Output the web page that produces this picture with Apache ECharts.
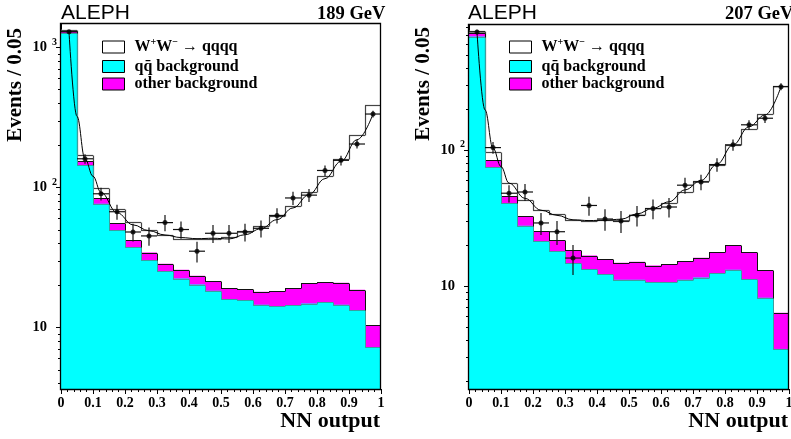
<!DOCTYPE html>
<html><head><meta charset="utf-8">
<style>html,body{margin:0;padding:0;background:#fff}#c{width:791px;height:439px}</style>
<script src="https://cdn.jsdelivr.net/npm/echarts@6/dist/echarts.min.js"></script>
</head><body><div id="c"></div>
<script>
// ---------- data ----------
const binLow = [0,0.05,0.1,0.15,0.2,0.25,0.3,0.35,0.4,0.45,0.5,0.55,0.6,0.65,0.7,0.75,0.8,0.85,0.9,0.95];
const binWidth = 0.05;

// 189 GeV panel
const qq189    = [1259,143.6,76.5,49.3,37.5,30.3,25.3,22.3,20.2,18.3,15.9,15.6,14.5,14.2,14.4,14.8,15.2,14.5,13.2,7.2];
const other189 = [42,10.8,7.5,6.0,4.6,3.9,3.2,3.5,3.2,3.1,3.2,3.2,3.5,4.0,4.6,5.8,5.9,6.3,5.4,3.2];
const ww189    = [36,15.6,14.4,14.3,14.8,15.1,17.4,17.2,19.3,21.4,25.3,29.7,35,44.3,55,72.1,99.9,138.8,218.1,377.6];
const data189  = [1290,160,90,67,48,45,56,50,35,47,47,48,51,63,84,88,132,156,204,334];
const err189   = [36,12.6,9.5,8.2,6.9,6.7,7.5,7.1,5.9,6.9,6.9,6.9,7.1,7.9,9.2,9.4,11.5,12.5,14.3,18.3];
const fitX189  = [0.025,0.05,0.075,0.1,0.125,0.175,0.225,0.275,0.325,0.375,0.425,0.475,0.525,0.575,0.625,0.675,0.725,0.775,0.825,0.875,0.925,0.975];
const fit189   = [1290,321,160,120,92,66,54,49,45.7,43.8,43,43.3,42.8,45.9,50.7,58.8,71.3,88.7,115.4,153.4,219,334];

// 207 GeV panel
const qq207    = [683,74.8,40.5,27.7,21.3,17.9,14.7,13.3,12.2,11.1,11.1,10.6,10.6,11.1,11.5,12.4,13.1,11.2,8.16,3.43];
const other207 = [42,8.9,5.2,4.8,3.8,3.7,3.5,3.4,3.5,3.7,3.9,3.5,3.8,4.0,4.6,5.3,6.7,6.4,4.9,2.9];
const ww207    = [29,12.5,11,10.4,11.1,12.1,12.4,13.5,14.9,15.4,18.3,23.5,26.6,33.8,42.8,59.9,88.5,124.4,169.9,288.6];
const data207  = [738,104,48,49,29,25,16,39,31,30,33,37,38,55,58,78,109,153,171,292];
const err207   = [27.2,10.2,6.9,7,5.4,5,4,6.2,5.6,5.5,5.7,6.1,6.2,7.4,7.6,8.8,10.4,12.4,13.1,17.1];
const fitX207  = [0.025,0.05,0.075,0.1,0.125,0.175,0.225,0.275,0.325,0.375,0.425,0.475,0.525,0.575,0.625,0.675,0.725,0.775,0.825,0.875,0.925,0.975];
const fit207   = [738,197,103,75.4,57,44,36,33,30.6,30.2,30.4,30.9,33.8,37.2,41.5,50.8,59.5,78.5,108.8,148,180.7,292];

// axis ticks
const yMajor189 = [10,100,1000];
const yMinor189 = [4,5,6,7,8,9,20,30,40,50,60,70,80,90,200,300,400,500,600,700,800,900];
const yMajor207 = [10,100];
const yMinor207 = [2,3,4,5,6,7,8,9,20,30,40,50,60,70,80,90,200,300,400,500,600,700,800];
const yRange189 = [3.63, 1468];
const yRange207 = [1.74, 830];
const energyLabels = ['189 GeV','207 GeV'];

// ---------- helpers ----------
const SERIF = '"Liberation Serif", "Times New Roman", serif';
const SANS = '"Liberation Sans", Arial, sans-serif';
const COL_QQ = '#00ffff', COL_OT = '#ff00ff', COL_WW = '#ffffff';

function add(a, b) { return a.map((v, i) => v + b[i]); }
function snap(v) { return Math.round(v) + 0.5; }

function fillSeries(name, gi, tops, ymin, color, z) {
  return {
    type: 'custom', name: name, xAxisIndex: gi, yAxisIndex: gi, z: z, silent: true, clip: true,
    itemStyle: { color: color, borderColor: '#000', borderWidth: 1 },
    encode: { x: [0, 1], y: 2 },
    data: binLow.map((x, i) => [x, x + binWidth, tops[i]]),
    renderItem: function (params, api) {
      const a = api.coord([api.value(0), api.value(2)]);
      const b = api.coord([api.value(1), ymin]);
      return { type: 'rect', shape: { x: a[0], y: a[1], width: b[0] - a[0], height: b[1] - a[1] },
               style: { fill: color } };
    }
  };
}
function edgeSeries(gi, tops, ymin, stroke, lw, z) {
  return {
    type: 'custom', name: 'edge', xAxisIndex: gi, yAxisIndex: gi, z: z, silent: true, clip: true,
    encode: { x: [0, 1], y: 2 },
    data: binLow.map((x, i) => [x, x + binWidth, tops[i], i < tops.length - 1 ? tops[i + 1] : ymin]),
    renderItem: function (params, api) {
      const a = api.coord([api.value(0), api.value(2)]);
      const b = api.coord([api.value(1), api.value(2)]);
      const c = api.coord([api.value(1), api.value(3)]);
      const st = { stroke: stroke, lineWidth: lw };
      const y1 = snap(a[1]), y2 = snap(c[1]);
      return { type: 'group', children: [
        { type: 'line', shape: { x1: a[0], y1: y1, x2: b[0], y2: y1 }, style: st },
        { type: 'line', shape: { x1: snap(b[0]), y1: y1, x2: snap(b[0]), y2: y2 }, style: st }
      ] };
    }
  };
}
function errSeries(gi, vals, errs, z) {
  return {
    type: 'custom', name: 'err', xAxisIndex: gi, yAxisIndex: gi, z: z, silent: true,
    encode: { x: 0, y: 1 },
    data: binLow.map((x, i) => [x + binWidth / 2, vals[i], errs[i]]),
    renderItem: function (params, api) {
      const xc = api.value(0), v = api.value(1), e = api.value(2);
      const l = api.coord([xc - binWidth / 2, v]), r = api.coord([xc + binWidth / 2, v]);
      const t = api.coord([xc, v + e]), b = api.coord([xc, v - e]);
      const st = { stroke: '#111', lineWidth: 1.2 };
      return { type: 'group', children: [
        { type: 'line', shape: { x1: l[0], y1: l[1], x2: r[0], y2: r[1] }, style: st },
        { type: 'line', shape: { x1: t[0], y1: t[1], x2: b[0], y2: b[1] }, style: st }
      ] };
    }
  };
}
function tickSeries(gi, vals, len) {
  return {
    type: 'custom', name: 'ticks', xAxisIndex: gi, yAxisIndex: gi, z: 20, silent: true, clip: false,
    encode: { x: 0, y: 1 },
    data: vals.map(v => [0, v]),
    renderItem: function (params, api) {
      const p = api.coord([0, api.value(1)]);
      const y = snap(p[1]);
      return { type: 'line', shape: { x1: p[0] - len, y1: y, x2: p[0], y2: y }, style: { stroke: '#000', lineWidth: 1 } };
    }
  };
}
function frameSeries(gi) {
  return {
    type: 'custom', name: 'frame', xAxisIndex: gi, yAxisIndex: gi, z: 30, silent: true, clip: false,
    data: [[0.5, 10]],
    renderItem: function (params, api) {
      const cs = params.coordSys;
      return { type: 'rect', shape: { x: snap(cs.x) - 1, y: snap(cs.y) - 1, width: Math.round(cs.width), height: Math.round(cs.height) + 1 },
               style: { fill: null, stroke: '#000', lineWidth: 1.3 } };
    }
  };
}
function panel(gi, qq, ot, ww, dat, err, fx, fy, yr, majors, minors) {
  const lvl1 = qq, lvl2 = add(qq, ot), lvl3 = add(lvl2, ww);
  const ymin = yr[0];
  return [
    fillSeries('WW', gi, lvl3, ymin, COL_WW, 1),
    fillSeries('other', gi, lvl2, ymin, COL_OT, 1.1),
    fillSeries('qq', gi, lvl1, ymin, COL_QQ, 1.2),
    edgeSeries(gi, lvl3, ymin, '#444', 1.2, 2),
    edgeSeries(gi, lvl2, ymin, '#111', 1, 2.1),
    edgeSeries(gi, lvl1, ymin, '#3a9f9f', 1, 2.2),
    { type: 'line', name: 'fit', xAxisIndex: gi, yAxisIndex: gi, z: 3, silent: true,
      data: fx.map((x, i) => [x, fy[i]]), smooth: 0.4, smoothMonotone: 'x', showSymbol: false, symbol: 'none',
      lineStyle: { color: '#000', width: 1 } },
    errSeries(gi, dat, err, 4),
    { type: 'scatter', name: 'data', xAxisIndex: gi, yAxisIndex: gi, z: 5, silent: true, symbolSize: 5,
      itemStyle: { color: '#000' }, data: binLow.map((x, i) => [x + binWidth / 2, dat[i]]) },
    tickSeries(gi, majors, 5),
    tickSeries(gi, minors, 3),
    frameSeries(gi)
  ];
}

const grids = [
  { left: 61, top: 24, width: 320, height: 365 },
  { left: 469, top: 25, width: 320, height: 364 }
];
function xAxis(gi) {
  return {
    type: 'value', gridIndex: gi, min: 0, max: 1, interval: 0.1,
    axisLine: { show: true, lineStyle: { color: '#000', width: 1 } },
    axisTick: { show: true, inside: false, length: 5, lineStyle: { color: '#000' } },
    minorTick: { show: true, splitNumber: 5, length: 3, lineStyle: { color: '#000' } },
    splitLine: { show: false },
    axisLabel: { margin: 7, color: '#000', fontFamily: SERIF, fontWeight: 'bold', fontSize: 14,
      formatter: v => (Math.abs(v) < 1e-9 ? '0' : Math.abs(v - 1) < 1e-9 ? '1' : v.toFixed(1)) }
  };
}
function yAxis(gi, yr) {
  return {
    type: 'log', logBase: 10, gridIndex: gi, min: yr[0], max: yr[1],
    axisLine: { show: true, lineStyle: { color: '#000', width: 1 } },
    axisTick: { show: false },
    splitLine: { show: false },
    axisLabel: {
      margin: 4, showMinLabel: false, showMaxLabel: false,
      formatter: function (v) {
        const e = Math.log10(v), r = Math.round(e);
        if (Math.abs(e - r) > 1e-4) return '';
        if (r === 1) return '{b|10}{s| }';
        return '{b|10}{s|' + r + '}';
      },
      rich: {
        b: { fontFamily: SERIF, fontWeight: 'bold', fontSize: 14.5, color: '#000' },
        s: { fontFamily: SERIF, fontWeight: 'bold', fontSize: 10, color: '#000', width: 7, padding: [0, 0, 10, 3] }
      }
    }
  };
}
function legend(left) {
  return {
    left: left, top: 37, orient: 'vertical', padding: 0, itemWidth: 22, itemHeight: 12, itemGap: 1.5,
    selectedMode: false,
    data: [
      { name: 'WW', icon: 'rect', itemStyle: { color: COL_WW, borderColor: '#000', borderWidth: 1 } },
      { name: 'qq', icon: 'rect', itemStyle: { color: COL_QQ, borderColor: '#000', borderWidth: 1 } },
      { name: 'other', icon: 'rect', itemStyle: { color: COL_OT, borderColor: '#000', borderWidth: 1 } }
    ],
    formatter: function (name) {
      if (name === 'WW') return '{g| }{b|W}{s|+}{b|W}{s|\u2212}{b| \u2192 qqqq}';
      if (name === 'qq') return '{g| }{b|qq\u0304 background}';
      return '{g| }{b|other background}';
    },
    textStyle: {
      rich: {
        g: { width: 5, fontSize: 10 },
        b: { fontFamily: SERIF, fontWeight: 'bold', fontSize: 16, color: '#000', lineHeight: 20 },
        s: { fontFamily: SERIF, fontWeight: 'bold', fontSize: 10, color: '#000', padding: [0, 0, 10, 0], lineHeight: 10 }
      }
    }
  };
}
function texts(x0, xr, evX, evTop, energy, eX) {
  return [
    { type: 'text', x: x0, y: 13.5, style: { text: 'ALEPH', font: '21px ' + SANS, fill: '#000', align: 'left', verticalAlign: 'middle' } },
    { type: 'text', x: eX, y: 14.5, style: { text: energy, font: 'bold 18.5px ' + SERIF, fill: '#000', align: 'left', verticalAlign: 'middle' } },
    { type: 'text', x: xr, y: 421.5, style: { text: 'NN output', font: 'bold 22px ' + SERIF, fill: '#000', align: 'right', verticalAlign: 'middle' } },
    { type: 'text', x: evX, y: evTop, rotation: Math.PI / 2,
      style: { text: 'Events / 0.05', font: 'bold 21px ' + SERIF, fill: '#000', align: 'right', verticalAlign: 'middle' } }
  ];
}

const option = {
  animation: false,
  backgroundColor: '#fff',
  grid: grids.map(g => Object.assign({ containLabel: false, outerBoundsMode: 'none' }, g)),
  xAxis: [xAxis(0), xAxis(1)],
  yAxis: [yAxis(0, yRange189), yAxis(1, yRange207)],
  legend: [legend(102), legend(509)],
  series: [].concat(
    panel(0, qq189, other189, ww189, data189, err189, fitX189, fit189, yRange189, yMajor189, yMinor189),
    panel(1, qq207, other207, ww207, data207, err207, fitX207, fit207, yRange207, yMajor207, yMinor207)
  ),
  graphic: [].concat(
    texts(61, 380, 15.8, 28, energyLabels[0], 317),
    texts(468, 788, 424, 27, energyLabels[1], 725)
  )
};
const chart = echarts.init(document.getElementById('c'), null, { renderer: 'canvas' });
chart.setOption(option);
</script></body></html>
